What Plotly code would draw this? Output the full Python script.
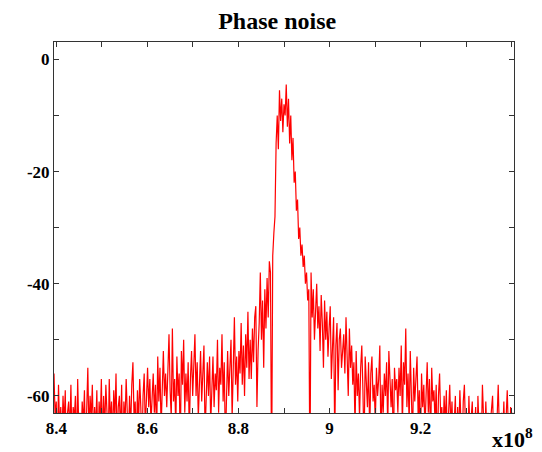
import numpy as np
import plotly.graph_objects as go

# Frequency axis (in units of 1e8 Hz), evenly sampled
F_START, F_STOP = 8.395, 9.405

# Spectrum level (dB), segment by segment
seg_839_850 = [-56, -64, -61, -70, -58, -66, -62, -68, -60, -65, -59, -72, -63, -61, -67, -58, -69, -62, -64, -60,
               -71, -57, -66, -63, -69, -61, -65, -59, -70, -62, -55, -67, -60, -64, -58, -68, -62, -66, -59, -71,
               -61, -65, -57, -69]
seg_850_860 = [-60, -66, -58, -63, -70, -57, -65, -61, -68, -59, -64, -56, -69, -62, -60, -67, -58, -73, -61, -65,
               -57, -63, -68, -60, -66, -58, -54, -64, -61, -69, -59, -65, -57, -62, -70, -60, -56, -66, -59, -55]
seg_860_870 = [-62, -57, -65, -59, -56, -63, -58, -68, -53, -61, -55, -66, -58, -52, -60, -56, -62, -54, -49, -59,
               -64, -48, -61, -57, -66, -53, -60, -56, -70, -52, -58, -50, -63, -56, -61, -54, -67, -57, -52, -60]
seg_870_880 = [-55, -49, -60, -54, -64, -57, -52, -61, -56, -51, -67, -58, -54, -60, -53, -65, -57, -53, -62, -56,
               -59, -50, -63, -55, -58, -49, -61, -54, -69, -57, -52, -60, -55, -50, -64, -56, -46, -58, -53, -61]
seg_880_887 = [-52, -56, -47, -58, -51, -60, -49, -55, -45, -57, -50, -57, -48, -54, -46, -44, -62, -52, -47, -38,
               -50, -43, -55, -41, -48, -39, -46, -36]
seg_peak = [-38, -75, -35, -31, -28, -15, -10, -16, -5.5, -11, -7, -13, -8, -10, -4.5, -12, -7, -15, -10, -18,
            -14, -22, -20, -27, -25, -32, -30, -35, -33, -37, -35, -40, -38, -43, -41, -75]
seg_896_905 = [-38, -46, -41, -50, -43, -40, -48, -44, -52, -42, -47, -55, -43, -50, -45, -53, -48, -44, -57, -49,
               -46, -68, -51, -47, -59, -50, -48, -55, -52, -49, -56, -46, -53, -60, -48, -55]
seg_905_915 = [-51, -58, -54, -66, -52, -60, -56, -64, -55, -51, -59, -70, -53, -57, -62, -54, -67, -56, -53, -61,
               -58, -65, -55, -60, -57, -51, -69, -58, -63, -56, -60, -54, -66, -52, -58, -62, -57, -71, -55, -59]
seg_915_925 = [-57, -63, -55, -60, -51, -66, -54, -58, -48, -62, -56, -65, -52, -59, -68, -55, -61, -57, -53, -64,
               -59, -70, -56, -62, -58, -66, -60, -54, -63, -57, -69, -55, -61, -59, -65, -58, -72, -60, -56, -64]
seg_925_941 = [-62, -68, -60, -65, -59, -71, -63, -58, -66, -61, -69, -64, -60, -73, -62, -67, -59, -65, -70, -61,
               -58, -66, -63, -72, -60, -67, -64, -61, -69, -65, -62, -74, -60, -66, -63, -68, -58, -64, -70, -61,
               -67, -63, -71, -65, -62, -60, -68, -64, -70, -62, -58, -66, -73, -63, -67, -61, -69, -64, -59, -66,
               -72, -62, -68, -63, -65]

x_tickvals = [8.4, 8.5, 8.6, 8.7, 8.8, 8.9, 9.0, 9.1, 9.2, 9.3, 9.4]
x_ticktext = ["8.4", "", "8.6", "", "8.8", "", "9", "", "9.2", "", ""]
y_tickvals = [-60, -50, -40, -30, -20, -10, 0]
y_ticktext = ["-60", "", "-40", "", "-20", "", "0"]

level = (seg_839_850 + seg_850_860 + seg_860_870 + seg_870_880 + seg_880_887 + seg_peak
         + seg_896_905 + seg_905_915 + seg_915_925 + seg_925_941)
freq = np.linspace(F_START, F_STOP, len(level))

fig = go.Figure(go.Scatter(x=freq, y=level, mode='lines',
                           line=dict(color='#ff0000', width=1.2)))

axis_font = dict(family="Liberation Serif", size=17, color="black", weight="bold")
fig.update_xaxes(range=[F_START, F_STOP], tickvals=x_tickvals, ticktext=x_ticktext,
                 showgrid=False, zeroline=False, showline=True, linecolor="#333", linewidth=1,
                 mirror="ticks", ticks="inside", ticklen=5, tickcolor="#333", tickfont=axis_font)
fig.update_yaxes(range=[-63.05, 3.1], tickvals=y_tickvals, ticktext=y_ticktext,
                 showgrid=False, zeroline=False, showline=True, linecolor="#333", linewidth=1,
                 mirror="ticks", ticks="inside", ticklen=5, tickcolor="#333", tickfont=axis_font)

# the page body adds an 8px offset, so the figure is 8px smaller than the window
fig.update_layout(
    width=534, height=444, autosize=False,
    margin=dict(l=46, r=28, t=34, b=39),
    paper_bgcolor="white", plot_bgcolor="white",
    showlegend=False,
    title=dict(text="Phase noise", x=0.504, xanchor="center", y=0.972, yanchor="middle",
               font=dict(family="Liberation Serif", size=24, color="black", weight="bold")),
)
fig.add_annotation(text="x10<sup>8</sup>", xref="paper", yref="paper", x=0.948, y=-0.068,
                   xanchor="left", yanchor="middle", showarrow=False,
                   font=dict(family="Liberation Serif", size=22, color="black", weight="bold"))

fig.write_html("out.html")
